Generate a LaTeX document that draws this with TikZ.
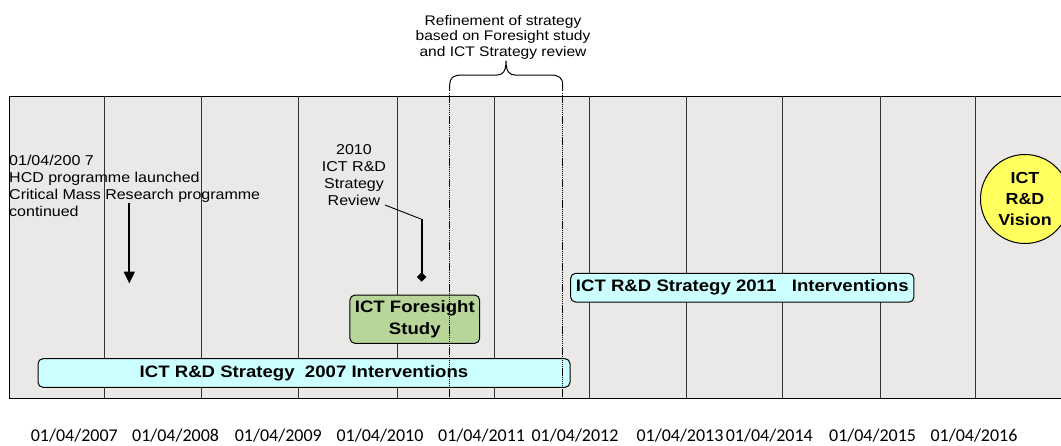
\documentclass[tikz,border=0pt]{standalone}
\usepackage{fontspec}
\setmainfont{Liberation Sans}[FakeStretch=1.12]
\newfontfamily\datefont{Carlito}
\usetikzlibrary{arrows.meta}
\definecolor{panel}{HTML}{EBE9E7}
\definecolor{boxcyan}{HTML}{CCFFFF}
\definecolor{boxgreen}{HTML}{B8D69A}
\definecolor{visyellow}{HTML}{FFFF5E}
\definecolor{gridc}{HTML}{333333}
\tikzset{
  lbl/.style={inner sep=0, align=left, font=\fontsize{14.3}{17}\selectfont},
  bar/.style={draw=black, line width=1pt, rounded corners=5pt, fill=boxcyan, inner sep=0,
              font=\bfseries\fontsize{16.6}{21.5}\selectfont},
  gridline/.style={draw=gridc, line width=0.9pt},
  sepline/.style={draw=black, line width=1.5pt, dash pattern=on 1.4pt off 0.7pt},
  datef/.style={inner sep=0, font=\datefont\fontsize{18}{20}\selectfont},
}
\begin{document}
\begin{tikzpicture}[x=1pt,y=-1pt]
\useasboundingbox (0,0) rectangle (1061,445);
% panel
\fill[panel] (9,96) rectangle (1061,398);
\draw[line width=1pt] (1061,96) -- (9,96) -- (9,398) -- (1061,398);
\foreach \x in {104.5,201,298,397.7,494,589.7,686,782,880.7,975}
  \draw[gridline] (\x,96) -- (\x,398);
% texts
\node[lbl, anchor=north west] (hcd) at (9,155) {01/04/200 7\\HCD programme launched\\Critical Mass Research programme\\continued};
\node[lbl, align=center, anchor=north, font=\fontsize{14.3}{16.8}\selectfont] (rev) at (354,144.5) {2010\\ICT R\&D\\Strategy\\Review};
\node[lbl, align=center, anchor=north, font=\fontsize{13.9}{15.7}\selectfont] (refine) at (503,14.8) {Refinement of strategy\\based on Foresight study\\and ICT Strategy review};
% boxes
\node[bar, minimum width=532pt, minimum height=28.6pt] (s2007) at (304,373) {ICT R\&D Strategy\ \ 2007 Interventions};
\node[bar, minimum width=343.3pt, minimum height=28.7pt] (s2011) at (742.3,287.7) {ICT R\&D Strategy 2011\ \ \ Interventions};
\node[bar, fill=boxgreen, align=center, minimum width=129.7pt, minimum height=48.3pt] (fs) at (414.8,319.2) {ICT Foresight\\Study};
\node[circle, draw=black, line width=1pt, fill=visyellow, minimum size=89pt, inner sep=0, align=center,
      font=\bfseries\fontsize{16}{21}\selectfont] (vis) at (1025,199) {ICT\\R\&D\\Vision};
% separators
\coordinate (sepL1) at (449.7,93); \coordinate (sepL2) at (449.7,398);
\coordinate (sepR1) at (562.7,93); \coordinate (sepR2) at (562.7,398);
\draw[sepline] (sepL1) -- (sepL2);
\draw[sepline] (sepR1) -- (sepR2);
% brace
\draw[line width=1pt] (449.7,91) -- (449.7,85) .. controls (449.7,78) and (453,75) .. (462,75) -- (497,75)
  .. controls (503,75) and (506,71) .. (506,61)
  .. controls (506,71) and (509,75) .. (515,75) -- (550,75)
  .. controls (559.4,75) and (562.7,78) .. (562.7,85) -- (562.7,91);
% arrows
\coordinate (hcdA) at (129.3,202.7); \coordinate (hcdB) at (129.3,283.5);
\draw[line width=2pt, -{Triangle[length=12pt,width=11pt]}] (hcdA) -- (hcdB);
\coordinate (revS) at (385,205); \coordinate (revK) at (421.7,219.3); \coordinate (revE) at (421.7,281.7);
\draw[line width=0.9pt] (revS) -- (revK);
\draw[line width=2pt, -{Diamond[length=9.5pt,width=9.5pt]}] (revK) -- (revE);
% dates
\foreach \x/\yr in {74.3/2007,175.6/2008,278.3/2009,380/2010,481.6/2011,575/2012,680/2013,769.3/2014,872.6/2015,974/2016}
  \node[datef, anchor=base] (d\yr) at (\x,441.7) {01/04/\yr};
\end{tikzpicture}
\end{document}
